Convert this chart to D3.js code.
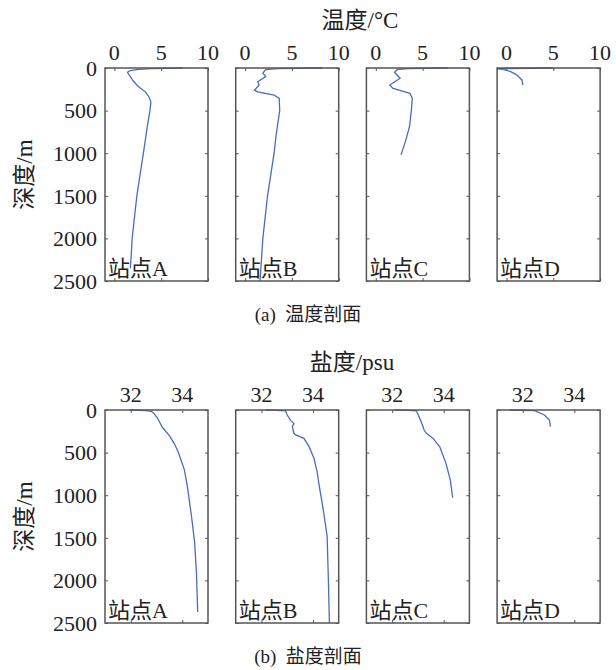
<!DOCTYPE html>
<html>
<head>
<meta charset="utf-8">
<script src="https://cdn.jsdelivr.net/npm/d3@7"></script>
<style>
  body { margin: 0; background: #fff; }
  text { font-family: "Liberation Serif", "Noto Sans CJK SC", serif; fill: #222; }
</style>
</head>
<body>
<svg id="chart"></svg>
<script>
// station profiles, [depth (m), value]
var stations = ["站点A", "站点B", "站点C", "站点D"];

var tempA = [[0,7.3],[3,6.0],[8,4.0],[15,2.6],[30,1.7],[50,1.4],[100,1.7],[150,2.0],[200,2.4],[230,2.7],[280,3.3],[340,3.7],[400,3.9],[500,3.8],[700,3.5],[850,3.3],[1000,3.1],[1250,2.75],[1500,2.4],[1750,2.15],[2000,1.9],[2200,1.8],[2350,1.7]];
var tempB = [[0,8.3],[3,6.0],[8,3.5],[20,2.2],[60,1.9],[100,2.2],[160,1.35],[200,1.5],[260,1.0],[280,1.35],[317,3.1],[356,3.65],[500,3.7],[800,3.3],[1000,3.1],[1500,2.4],[2000,1.9],[2500,1.6]];
var tempC = [[0,7.7],[3,5.5],[8,3.5],[20,2.3],[50,2.0],[120,2.6],[200,1.5],[240,1.85],[258,2.4],[297,3.65],[356,3.9],[500,3.8],[690,3.6],[850,3.2],[1020,2.7]];
var tempD = [[0,5.0],[3,2.5],[6,0],[10,-1.0],[20,-0.3],[40,0.4],[80,1.1],[140,1.65],[200,1.75]];

var salA = [[0,31.95],[3,32.3],[6,32.6],[15,32.8],[40,32.9],[100,33.05],[200,33.22],[300,33.5],[400,33.7],[500,33.85],[700,34.08],[900,34.2],[1250,34.36],[1550,34.48],[1900,34.55],[2370,34.6]];
var salB = [[0,32.16],[5,32.6],[10,32.94],[59,33.0],[122,33.13],[160,33.26],[195,33.2],[274,33.26],[293,33.33],[333,33.65],[430,33.85],[567,34.04],[723,34.16],[900,34.25],[1170,34.4],[1480,34.55],[2000,34.6],[2500,34.64]];
var salC = [[0,32.1],[5,32.6],[10,32.94],[98,33.07],[196,33.2],[235,33.24],[274,33.33],[333,33.59],[431,33.85],[626,34.09],[822,34.26],[1030,34.35]];
var salD = [[0,31.48],[3,31.9],[8,32.45],[59,32.84],[117,33.03],[196,33.07]];

var depthTicks = [0, 500, 1000, 1500, 2000, 2500];
var tempTicks = [0, 5, 10];
var salTicks = [32, 34];

var width = 616, height = 670;
var panelW = 103, panelH = 213, panelStep = 130.7, panelLeft = 105;

var svg = d3.select("#chart")
  .attr("width", width)
  .attr("height", height);

function drawRow(top, profiles, xDomain, xTicks, title, titleX, caption) {
  var yScale = d3.scaleLinear().domain([0, 2500]).range([top, top + panelH]);

  profiles.forEach(function(prof, i) {
    var left = panelLeft + i * panelStep;
    var xScale = d3.scaleLinear().domain(xDomain).range([left, left + panelW]);
    var g = svg.append("g");

    // inward ticks on all four sides, matlab style
    g.append("g")
      .attr("transform", `translate(0, ${top})`)
      .call(d3.axisBottom(xScale).tickValues(xTicks).tickSize(3).tickFormat(""));
    g.append("g")
      .attr("transform", `translate(0, ${top + panelH})`)
      .call(d3.axisTop(xScale).tickValues(xTicks).tickSize(3).tickFormat(""));
    g.append("g")
      .attr("transform", `translate(${left}, 0)`)
      .call(d3.axisRight(yScale).tickValues(depthTicks).tickSize(3).tickFormat(""));
    g.append("g")
      .attr("transform", `translate(${left + panelW}, 0)`)
      .call(d3.axisLeft(yScale).tickValues(depthTicks).tickSize(3).tickFormat(""));
    g.selectAll(".domain").remove();
    g.selectAll(".tick line").attr("stroke", "#555");

    // top tick labels
    g.selectAll(".xlab")
      .data(xTicks)
      .enter().append("text")
      .attr("x", function(d) { return xScale(d); })
      .attr("y", top - 8)
      .attr("text-anchor", "middle")
      .style("font-size", "22px")
      .text(function(d) { return d; });

    var line = d3.line()
      .x(function(d) { return xScale(d[1]); })
      .y(function(d) { return yScale(d[0]); });

    g.append("path")
      .attr("d", line(prof))
      .attr("fill", "none")
      .attr("stroke", "#4a6cc0")
      .attr("stroke-width", 1.3);

    g.append("rect")
      .attr("x", left)
      .attr("y", top)
      .attr("width", panelW)
      .attr("height", panelH)
      .attr("fill", "none")
      .attr("stroke", "#555")
      .attr("stroke-width", 1.5);

    g.append("text")
      .attr("x", left + 3)
      .attr("y", top + panelH - 5)
      .style("font-size", "22px")
      .text(stations[i]);
  });

  // depth labels
  svg.selectAll(null)
    .data(depthTicks)
    .enter().append("text")
    .attr("x", 97)
    .attr("y", function(d) { return yScale(d); })
    .attr("dy", "0.35em")
    .attr("text-anchor", "end")
    .style("font-size", "22px")
    .text(function(d) { return d; });

  svg.append("text")
    .attr("transform", `translate(32, ${top + panelH / 2}) rotate(-90)`)
    .attr("text-anchor", "middle")
    .style("font-size", "23px")
    .text("深度/m");

  svg.append("text")
    .attr("x", titleX)
    .attr("y", top - 40)
    .attr("text-anchor", "middle")
    .style("font-size", "23px")
    .text(title);

  svg.append("text")
    .attr("x", 308)
    .attr("y", top + panelH + 40)
    .attr("text-anchor", "middle")
    .style("font-size", "19px")
    .text(caption);
}

drawRow(68, [tempA, tempB, tempC, tempD], [-1, 10], tempTicks, "温度/°C", 360, "(a)\u00a0\u00a0温度剖面");
drawRow(410, [salA, salB, salC, salD], [31, 35], salTicks, "盐度/psu", 352, "(b)\u00a0\u00a0盐度剖面");
</script>
</body>
</html>
